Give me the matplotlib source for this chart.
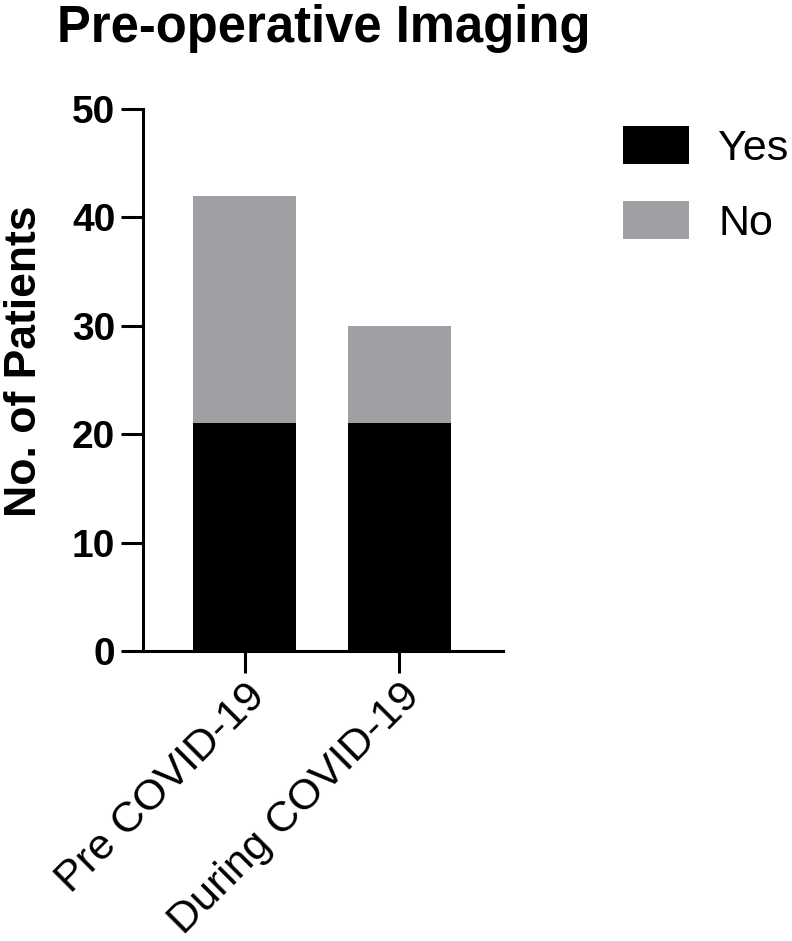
import matplotlib

matplotlib.use("Agg")

import matplotlib.pyplot as plt
import numpy as np

FIG_DPI = 100
YES_COLOR = "#000000"
NO_COLOR = "#a0a0a4"

groups = ["Pre COVID-19", "During COVID-19"]
yes_counts = [21, 21]
no_counts = [21, 9]
series_labels = ["Yes", "No"]
y_ticks = [0, 10, 20, 30, 40, 50]

plt.rcParams["font.family"] = ["Liberation Sans", "DejaVu Sans"]

fig = plt.figure(figsize=(7.92, 9.41), dpi=FIG_DPI)
ax = fig.add_axes([0.1806, 0.3082, 0.4545, 0.576])

x = np.arange(len(groups))
bar_w = 0.665
ax.bar(x, yes_counts, width=bar_w, color=YES_COLOR, label=series_labels[0], linewidth=0)
ax.bar(x, no_counts, width=bar_w, bottom=yes_counts, color=NO_COLOR, label=series_labels[1], linewidth=0)

ax.set_xlim(-0.655, 1.668)
ax.set_ylim(0, 50)
ax.set_yticks(y_ticks)
ax.set_xticks(x)
ax.set_xticklabels(groups, rotation=45, ha="right", va="top", rotation_mode="anchor")

for side in ["top", "right"]:
    ax.spines[side].set_visible(False)
for side in ["left", "bottom"]:
    ax.spines[side].set_linewidth(2.2)
    ax.spines[side].set_capstyle("projecting")

ax.tick_params(axis="both", length=16, width=2.2, pad=4)
ax.tick_params(axis="y", labelsize=28)
ax.tick_params(axis="x", labelsize=31, pad=2)
for lbl in ax.get_yticklabels():
    lbl.set_fontweight("bold")

ax.set_ylabel("No. of Patients", fontsize=32, fontweight="bold")
ax.yaxis.set_label_coords(-0.272, 0.534)

fig.text(57 / 792, 1 - 42 / 941, "Pre-operative Imaging", fontsize=36.5, fontweight="bold", va="baseline", ha="left")

fs_px = 31 * FIG_DPI / 72
ax.legend(
    loc="upper left",
    bbox_to_anchor=(623 / 792, 1 - 126 / 941),
    bbox_transform=fig.transFigure,
    frameon=False,
    fontsize=31,
    borderpad=0,
    borderaxespad=0,
    handlelength=66 / fs_px,
    handleheight=43 / fs_px,
    handletextpad=29 / fs_px,
    labelspacing=0.74,
)

fig.savefig("out.png", dpi=FIG_DPI)
